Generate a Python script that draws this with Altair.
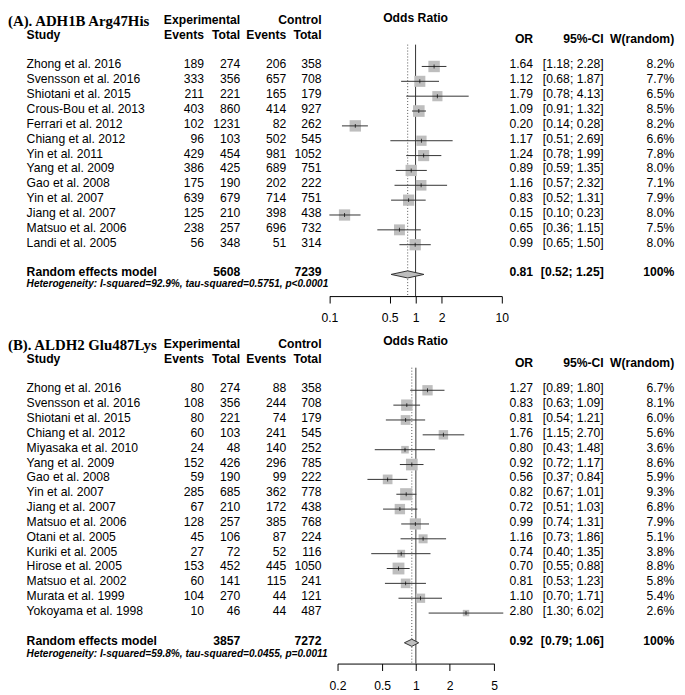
import altair as alt
import pandas as pd

# ---------------- Panel A data: ADH1B Arg47His ----------------
title_a = "(A). ADH1B Arg47His"
study_a = ["Zhong et al. 2016", "Svensson et al. 2016", "Shiotani et al. 2015",
           "Crous-Bou et al. 2013", "Ferrari et al. 2012", "Chiang et al. 2012",
           "Yin et al. 2011", "Yang et al. 2009", "Gao et al. 2008", "Yin et al. 2007",
           "Jiang et al. 2007", "Matsuo et al. 2006", "Landi et al. 2005"]
exp_events_a = [189, 333, 211, 403, 102, 96, 429, 386, 175, 639, 125, 238, 56]
exp_total_a = [274, 356, 221, 860, 1231, 103, 454, 425, 190, 679, 210, 257, 348]
ctl_events_a = [206, 657, 165, 414, 82, 502, 981, 689, 202, 714, 398, 696, 51]
ctl_total_a = [358, 708, 179, 927, 262, 545, 1052, 751, 222, 751, 438, 732, 314]
or_a = [1.64, 1.12, 1.79, 1.09, 0.20, 1.17, 1.24, 0.89, 1.16, 0.83, 0.15, 0.65, 0.99]
lo_a = [1.18, 0.68, 0.78, 0.91, 0.14, 0.51, 0.78, 0.59, 0.57, 0.52, 0.10, 0.36, 0.65]
hi_a = [2.28, 1.87, 4.13, 1.32, 0.28, 2.69, 1.99, 1.35, 2.32, 1.31, 0.23, 1.15, 1.50]
w_a = [8.2, 7.7, 6.5, 8.5, 8.2, 6.6, 7.8, 8.0, 7.1, 7.9, 8.0, 7.5, 8.0]
pooled_a = [0.81, 0.52, 1.25]
totals_a = [5608, 7239]
het_a = "Heterogeneity: I-squared=92.9%, tau-squared=0.5751, p<0.0001"
ticks_a = [0.1, 0.5, 1, 2, 10]

# ---------------- Panel B data: ALDH2 Glu487Lys ----------------
title_b = "(B). ALDH2 Glu487Lys"
study_b = ["Zhong et al. 2016", "Svensson et al. 2016", "Shiotani et al. 2015",
           "Chiang et al. 2012", "Miyasaka et al. 2010", "Yang et al. 2009",
           "Gao et al. 2008", "Yin et al. 2007", "Jiang et al. 2007", "Matsuo et al. 2006",
           "Otani et al. 2005", "Kuriki et al. 2005", "Hirose et al. 2005",
           "Matsuo et al. 2002", "Murata et al. 1999", "Yokoyama et al. 1998"]
exp_events_b = [80, 108, 80, 60, 24, 152, 59, 285, 67, 128, 45, 27, 153, 60, 104, 10]
exp_total_b = [274, 356, 221, 103, 48, 426, 190, 685, 210, 257, 106, 72, 452, 141, 270, 46]
ctl_events_b = [88, 244, 74, 241, 140, 296, 99, 362, 172, 385, 87, 52, 445, 115, 44, 44]
ctl_total_b = [358, 708, 179, 545, 252, 785, 222, 778, 438, 768, 224, 116, 1050, 241, 121, 487]
or_b = [1.27, 0.83, 0.81, 1.76, 0.80, 0.92, 0.56, 0.82, 0.72, 0.99, 1.16, 0.74, 0.70, 0.81, 1.10, 2.80]
lo_b = [0.89, 0.63, 0.54, 1.15, 0.43, 0.72, 0.37, 0.67, 0.51, 0.74, 0.73, 0.40, 0.55, 0.53, 0.70, 1.30]
hi_b = [1.80, 1.09, 1.21, 2.70, 1.48, 1.17, 0.84, 1.01, 1.03, 1.31, 1.86, 1.35, 0.88, 1.23, 1.71, 6.02]
w_b = [6.7, 8.1, 6.0, 5.6, 3.6, 8.6, 5.9, 9.3, 6.8, 7.9, 5.1, 3.8, 8.8, 5.8, 5.4, 2.6]
pooled_b = [0.92, 0.79, 1.06]
totals_b = [3857, 7272]
het_b = "Heterogeneity: I-squared=59.8%, tau-squared=0.0455, p=0.0011"
ticks_b = [0.2, 0.5, 1, 2, 5]

# ---------------- layout ----------------
SC = 0.99
UNIT = 15.16 * SC
SANS = "Liberation Sans"
SERIF = "Liberation Serif"
FS = 12.3
GREY = "#BEBEBE"
LINE = "#333333"
PANEL_W = 676
DY = -2


def X(ref):
    return (ref - 2) * SC


def build_panel(title, study, ee, et, ce, ct, orv, lo, hi, w, pooled, totals, het,
                ticks, xdom, xr, lay):
    top, axis_row = lay["top"], lay["axis"]
    H = (axis_row - top) * UNIT
    yscale = alt.Scale(domain=[top, axis_row], reverse=True, nice=False, zero=False)
    xscale = alt.Scale(type="log", domain=xdom, range=[X(xr[0]), X(xr[1])], nice=False)
    xaxis = alt.Axis(values=ticks, format="~g", title=None, grid=False, tickSize=7,
                     labelPadding=9, labelFlush=False, labelOverlap=False)
    xenc = lambda f: alt.X(f, type="quantitative", scale=xscale, axis=xaxis)
    yenc = lambda f: alt.Y(f, type="quantitative", scale=yscale, axis=None)

    n = len(study)
    df = pd.DataFrame({
        "row": list(range(n)), "study": study, "ee": ee, "et": et, "ce": ce, "ct": ct,
        "or": orv, "lo": lo, "hi": hi, "w": w,
        "ortxt": [f"{v:.2f}" for v in orv],
        "citxt": [f"[{a:.2f}; {b:.2f}]" for a, b in zip(lo, hi)],
        "wtxt": [f"{v:.1f}%" for v in w],
    })
    wmax = max(w)

    def text_layer(data, field, xpos, align="right", weight="normal", size=FS,
                   font=SANS, style="normal"):
        return alt.Chart(data).mark_text(
            align=align, baseline="middle", font=font, fontSize=size, dy=DY,
            fontWeight=weight, fontStyle=style, color="black"
        ).encode(x=alt.value(xpos), y=yenc("row"), text=alt.Text(f"{field}:N"))

    layers = []
    # headers
    hdr = [
        (title, lay["title"], X(2), "left", "bold", 15, SERIF, "normal"),
        ("Experimental", lay["h1"], X(239), "right", "bold", FS, SANS, "normal"),
        ("Control", lay["h1"], X(322), "right", "bold", FS, SANS, "normal"),
        ("Study", lay["h2"], X(21), "left", "bold", FS, SANS, "normal"),
        ("Events", lay["h2"], X(202), "right", "bold", FS, SANS, "normal"),
        ("Total", lay["h2"], X(239), "right", "bold", FS, SANS, "normal"),
        ("Events", lay["h2"], X(286), "right", "bold", FS, SANS, "normal"),
        ("Total", lay["h2"], X(322), "right", "bold", FS, SANS, "normal"),
        ("Odds Ratio", lay["odds"], X(418), "center", "bold", FS, SANS, "normal"),
        ("OR", lay["h3"], X(538), "right", "bold", FS, SANS, "normal"),
        ("95%-CI", lay["h3"], X(610), "right", "bold", FS, SANS, "normal"),
        ("W(random)", lay["h3"], X(682), "right", "bold", FS, SANS, "normal"),
        ("Random effects model", lay["rand"], X(21), "left", "bold", FS, SANS, "normal"),
        (str(totals[0]), lay["rand"], X(239), "right", "bold", FS, SANS, "normal"),
        (str(totals[1]), lay["rand"], X(322), "right", "bold", FS, SANS, "normal"),
        (f"{pooled[0]:.2f}", lay["rand"], X(538), "right", "bold", FS, SANS, "normal"),
        (f"[{pooled[1]:.2f}; {pooled[2]:.2f}]", lay["rand"], X(610), "right", "bold", FS, SANS, "normal"),
        ("100%", lay["rand"], X(682), "right", "bold", FS, SANS, "normal"),
        (het, lay["het"], X(21), "left", "bold", 10.2, SANS, "italic"),
    ]
    for t, r, xp, al, wt, sz, fn, st in hdr:
        layers.append(text_layer(pd.DataFrame({"row": [r], "t": [t]}), "t", xp, al, wt, sz, fn, st))

    # study columns
    layers.append(text_layer(df, "study", X(21), "left"))
    layers.append(text_layer(df, "ee", X(202)))
    layers.append(text_layer(df, "et", X(239)))
    layers.append(text_layer(df, "ce", X(286)))
    layers.append(text_layer(df, "ct", X(322)))
    layers.append(text_layer(df, "ortxt", X(538)))
    layers.append(text_layer(df, "citxt", X(610)))
    layers.append(text_layer(df, "wtxt", X(682)))

    # reference lines
    vdf = pd.DataFrame({"x": [1.0], "y1": [lay["vtop"]], "y2": [axis_row]})
    pdf = pd.DataFrame({"x": [pooled[0]], "y1": [lay["vtop"]], "y2": [axis_row]})
    layers.append(alt.Chart(pdf).mark_rule(color="#555555", strokeWidth=1, strokeDash=[1, 2])
                  .encode(x=xenc("x"), y=yenc("y1"), y2="y2"))
    layers.append(alt.Chart(vdf).mark_rule(color=LINE, strokeWidth=1)
                  .encode(x=xenc("x"), y=yenc("y1"), y2="y2"))

    # squares
    layers.append(alt.Chart(df).mark_square(color=GREY, opacity=1, filled=True)
                  .encode(x=xenc("or"), y=yenc("row"),
                          size=alt.Size("w:Q", scale=alt.Scale(domain=[0, wmax], range=[0, 151]),
                                        legend=None)))
    # CI lines
    layers.append(alt.Chart(df).mark_rule(color=LINE, strokeWidth=1)
                  .encode(x=xenc("lo"), x2="hi", y=yenc("row")))
    # estimate ticks
    layers.append(alt.Chart(df).mark_tick(color="black", orient="vertical", size=4, thickness=1)
                  .encode(x=xenc("or"), y=yenc("row")))

    # diamond
    r, h = lay["rand"], 0.24
    ddf = pd.DataFrame({"x": [pooled[1], pooled[0], pooled[2]],
                        "y1": [r, r - h, r], "y2": [r, r + h, r]})
    layers.append(alt.Chart(ddf).mark_area(fill=GREY, stroke=LINE, strokeWidth=1,
                                           orient="vertical", opacity=1)
                  .encode(x=xenc("x"), y=yenc("y1"), y2="y2"))

    return alt.layer(*layers).properties(width=PANEL_W, height=H)


lay_a = dict(top=-3.43, axis=15.46, title=-2.93, h1=-2.97, h2=-1.98, h3=-1.72,
             odds=-3.1, vtop=-1.47, rand=14, het=14.78)
lay_b = dict(top=-3.43, axis=18.4, title=-2.93, h1=-2.97, h2=-1.98, h3=-1.70,
             odds=-3.15, vtop=-1.52, rand=17, het=17.92)

panel_a = build_panel(title_a, study_a, exp_events_a, exp_total_a, ctl_events_a, ctl_total_a,
                      or_a, lo_a, hi_a, w_a, pooled_a, totals_a, het_a, ticks_a,
                      [0.1, 10], [330, 506], lay_a)
panel_b = build_panel(title_b, study_b, exp_events_b, exp_total_b, ctl_events_b, ctl_total_b,
                      or_b, lo_b, hi_b, w_b, pooled_b, totals_b, het_b, ticks_b,
                      [0.2, 5], [338.3, 498.3], lay_b)

chart = alt.vconcat(panel_a, panel_b, spacing=43.2, bounds="flush").properties(
    padding=0
).configure_view(stroke=None).configure_axis(
    labelFont=SANS, labelFontSize=FS, labelColor="black", tickColor="black",
    domainColor="black", tickWidth=1, domainWidth=1
)

chart.save("out.html", embed_options={"renderer": "svg", "actions": False})
